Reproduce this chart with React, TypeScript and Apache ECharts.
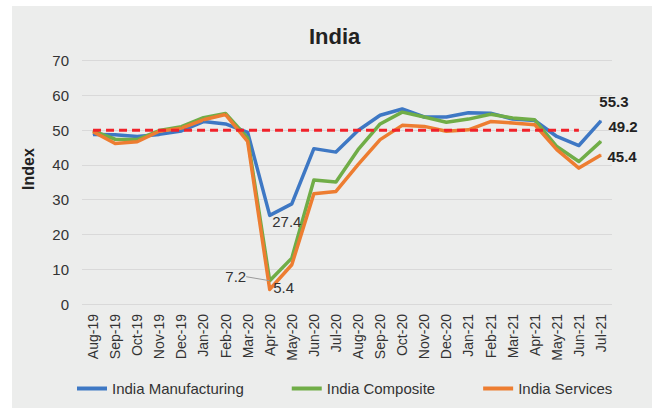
import React, { useEffect, useRef } from "react";
import * as echarts from "echarts";

const categories = [
  "Aug-19", "Sep-19", "Oct-19", "Nov-19", "Dec-19", "Jan-20", "Feb-20", "Mar-20",
  "Apr-20", "May-20", "Jun-20", "Jul-20", "Aug-20", "Sep-20", "Oct-20", "Nov-20",
  "Dec-20", "Jan-21", "Feb-21", "Mar-21", "Apr-21", "May-21", "Jun-21", "Jul-21",
];

const manufacturing = [48.8, 48.7, 48.2, 48.8, 49.8, 52.5, 51.8, 49.4, 25.5, 28.8, 44.7, 43.7, 49.9, 54.3, 56.1, 53.8, 53.8, 55.0, 54.9, 53.2, 52.8, 48.2, 45.6, 52.7];
const composite = [49.8, 47.4, 47.3, 49.9, 51.0, 53.6, 54.8, 47.8, 6.7, 13.2, 35.7, 35.1, 44.4, 51.8, 55.2, 53.8, 52.3, 53.2, 54.6, 53.5, 53.0, 45.3, 41.0, 46.8];
const services = [49.6, 46.2, 46.7, 49.7, 50.6, 53.0, 54.5, 46.8, 4.2, 11.3, 31.7, 32.4, 40.1, 47.3, 51.4, 51.1, 49.7, 50.1, 52.5, 52.1, 51.6, 44.4, 39.1, 42.9];
const threshold = [50, 50, 50, 50, 50, 50, 50, 50, 50, 50, 50, 50, 50, 50, 50, 50, 50, 50, 50, 50, 50, 50, 50, null];

const labelMonths = ["Apr-20", "Jul-21"];
const manufacturingLabels = ["27.4", "55.3"];
const compositeLabels = ["7.2", "49.2"];
const servicesLabels = ["5.4", "45.4"];

const seriesNames = ["India Manufacturing", "India Composite", "India Services"];
const yTicks = [0, 10, 20, 30, 40, 50, 60, 70];

const FONT = "'Liberation Sans', Arial, sans-serif";

// label styles (position / nudge) per series, per labelled month
const labelStyles: any[][] = [
  [
    { position: "right", shift: [-3, 6], fontSize: 15, color: "#333", fontWeight: "normal" },
    { position: "top", shift: [13, -6.5], fontSize: 15, color: "#222", fontWeight: "bold" },
  ],
  [
    { position: "left", shift: [-18, -4], fontSize: 15, color: "#333", fontWeight: "normal", guide: true },
    { position: "right", shift: [2, -15], fontSize: 15, color: "#222", fontWeight: "bold" },
  ],
  [
    { position: "right", shift: [-2, -2], fontSize: 15, color: "#333", fontWeight: "normal" },
    { position: "right", shift: [1, 2], fontSize: 15, color: "#222", fontWeight: "bold" },
  ],
];

function buildData(values: number[], texts: string[], s: number) {
  return values.map((v, i) => {
    const idx = labelMonths.indexOf(categories[i]);
    if (idx < 0) return v;
    const { shift, guide, ...st } = labelStyles[s][idx];
    return {
      value: v,
      label: { show: true, formatter: texts[idx], fontFamily: FONT, ...st },
      labelLine: { show: !!guide, lineStyle: { color: "#9a9a9a", width: 1 } },
    };
  });
}

function shiftFor(seriesIndex: number, dataIndex: number) {
  const idx = labelMonths.indexOf(categories[dataIndex]);
  if (seriesIndex > 2 || idx < 0) return null;
  return labelStyles[seriesIndex][idx].shift;
}

export default function App() {
  const ref = useRef<HTMLDivElement>(null);
  useEffect(() => {
    if (!ref.current) return;
    const chart = echarts.init(ref.current, undefined, { renderer: "svg" });
    const lineSeries = (name: string, data: any[], color: string) => ({
      name,
      type: "line",
      data,
      symbol: "circle",
      symbolSize: 1,
      showSymbol: true,
      lineStyle: { width: 3.5, color, join: "round" },
      itemStyle: { color },
      label: { show: false },
      labelLine: { show: false },
      labelLayout: (params: any) => {
        const sh = shiftFor(params.seriesIndex, params.dataIndex);
        if (!sh) return {};
        return { dx: sh[0], dy: sh[1] };
      },
    });
    chart.setOption({
      animation: false,
      backgroundColor: "#ffffff",
      textStyle: { fontFamily: FONT },
      graphic: {
        elements: [
          {
            type: "rect",
            z: -10,
            shape: { x: 12, y: 6, width: 640, height: 402 },
            style: { fill: "#ECEDEC" },
          },
          {
            type: "text",
            x: 28,
            y: 169,
            rotation: Math.PI / 2,
            style: {
              text: "Index",
              align: "center",
              verticalAlign: "middle",
              fontSize: 16,
              fontWeight: "bold",
              fill: "#222",
              fontFamily: FONT,
            },
          },
        ],
      },
      title: {
        text: "India",
        left: 304,
        top: 20,
        textStyle: { fontSize: 22, fontWeight: "bold", color: "#222", fontFamily: FONT },
      },
      legend: {
        data: seriesNames,
        left: 72,
        top: 376,
        icon: "rect",
        itemWidth: 30,
        itemHeight: 4,
        itemGap: 48,
        textStyle: { fontSize: 15, color: "#333", fontFamily: FONT },
      },
      grid: { left: 82, right: 44, top: 60.7, bottom: 104, containLabel: false },
      xAxis: {
        type: "category",
        data: categories,
        boundaryGap: true,
        axisLine: { show: false },
        axisTick: { show: false },
        axisLabel: { rotate: 90, interval: 0, fontSize: 14, color: "#333", margin: 10, fontFamily: FONT },
      },
      yAxis: {
        type: "value",
        min: yTicks[0],
        max: yTicks[yTicks.length - 1],
        interval: 10,
        axisLine: { show: false },
        axisTick: { show: false },
        axisLabel: { fontSize: 15, color: "#333", margin: 13, fontFamily: FONT },
        splitLine: { lineStyle: { color: "#D9D9D9", width: 1 } },
      },
      series: [
        lineSeries(seriesNames[0], buildData(manufacturing, manufacturingLabels, 0), "#3E78C4"),
        lineSeries(seriesNames[1], buildData(composite, compositeLabels, 1), "#70AD47"),
        lineSeries(seriesNames[2], buildData(services, servicesLabels, 2), "#ED7D31"),
        {
          name: "Threshold",
          type: "line",
          data: threshold,
          symbol: "none",
          showSymbol: false,
          lineStyle: { width: 3, color: "#F0222A", type: [8, 5] },
          z: 5,
        },
      ],
    });
    return () => chart.dispose();
  }, []);
  return (
    <div
      ref={ref}
      style={{ position: "absolute", left: 0, top: 0, width: 656, height: 408 }}
    />
  );
}
